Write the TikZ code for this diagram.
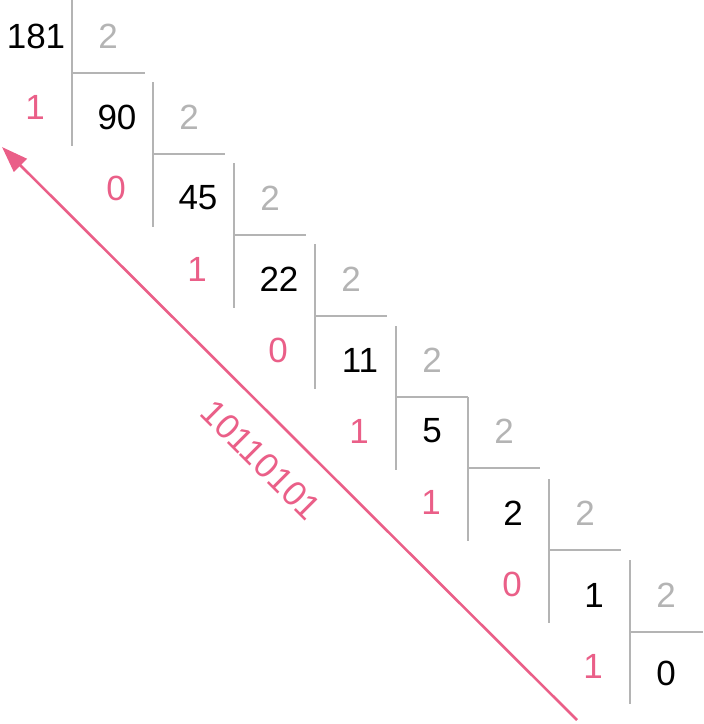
\documentclass[tikz,border=0pt]{standalone}
\usepackage{fontspec}
\setmainfont{Liberation Sans}
\usepackage{xcolor}
\usetikzlibrary{arrows.meta}
\definecolor{rosa}{HTML}{EA5F88}
\definecolor{grau}{HTML}{B4B4B4}

\begin{document}
\begin{tikzpicture}[x=0.5pt,y=-0.5pt,font=\fontsize{17.5}{20}\selectfont,
  bar/.style={draw=grau,line width=1.3pt},
  num/.style={inner sep=0pt,text=black},
  div/.style={inner sep=0pt,text=grau},
  rest/.style={inner sep=0pt,text=rosa}]
\useasboundingbox (0,0) rectangle (704,724);
\coordinate (c0) at (72,73);
\coordinate (c1) at (153,154);
\coordinate (c2) at (234,235);
\coordinate (c3) at (315,316);
\coordinate (c4) at (396,397);
\coordinate (c5) at (468,468);
\coordinate (c6) at (549,550);
\coordinate (c7) at (630,632);
\coordinate (tail) at (577,720);
\coordinate (head) at (2,147);

% Draw division steps
\draw[bar] (c0) ++(0,-73) -- ++(0,146) (c0) -- ++(73,0);
\draw[bar] (c1) ++(0,-72) -- ++(0,145) (c1) -- ++(72,0);
\draw[bar] (c2) ++(0,-72) -- ++(0,145) (c2) -- ++(72,0);
\draw[bar] (c3) ++(0,-72) -- ++(0,145) (c3) -- ++(72,0);
\draw[bar] (c4) ++(0,-71) -- ++(0,144) (c4) -- ++(72,0);
\draw[bar] (c5) ++(0,-71) -- ++(0,144) (c5) -- ++(72,0);
\draw[bar] (c6) ++(0,-71) -- ++(0,144) (c6) -- ++(72,0);
\draw[bar] (c7) ++(0,-72) -- ++(0,144) (c7) -- ++(73,0);

\node[num] (q0) at (36,36) {181};   \node[div] (d0) at (108,36) {2};   \node[rest] (r0) at (35,107) {1};
\node[num] (q1) at (117,117) {90};  \node[div] (d1) at (189,117) {2};  \node[rest] (r1) at (116,188) {0};
\node[num] (q2) at (198,198) {45};  \node[div] (d2) at (270,198) {2};  \node[rest] (r2) at (197,269) {1};
\node[num] (q3) at (279,279) {22};  \node[div] (d3) at (351,279) {2};  \node[rest] (r3) at (278,350) {0};
\node[num] (q4) at (360,360) {11};  \node[div] (d4) at (432,360) {2};  \node[rest] (r4) at (359,431) {1};
\node[num] (q5) at (432,431) {5};   \node[div] (d5) at (504,431) {2};  \node[rest] (r5) at (431,502) {1};
\node[num] (q6) at (513,513) {2};   \node[div] (d6) at (585,513) {2};  \node[rest] (r6) at (512,584) {0};
\node[num] (q7) at (594,595) {1};   \node[div] (d7) at (666,595) {2};  \node[rest] (r7) at (593,666) {1};
\node[num] (q8) at (666,673) {0};

% Read remainders upwards
\draw[rosa,line width=1.3pt,-{Triangle[length=13pt,width=9pt]}] (tail) -- (head);
\node[rest,rotate=-45] (bin) at (261,460) {10110101};

\end{tikzpicture}
\end{document}
